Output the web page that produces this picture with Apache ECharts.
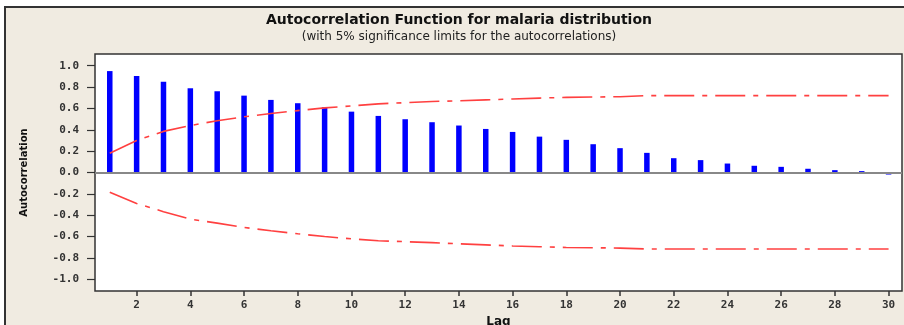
<!DOCTYPE html>
<html>
<head>
    <meta charset="utf-8">
    <title>ACF malaria</title>
    <script src="https://cdn.jsdelivr.net/npm/echarts@6/dist/echarts.min.js"></script>
    <style>
        html, body { margin: 0; padding: 0; background: #fff; }
    </style>
</head>
<body>
    <div id="main" style="width: 904px;height:325px;"></div>
    <script type="text/javascript">

    // lags 1..30
    var lags = [1, 2, 3, 4, 5, 6, 7, 8, 9, 10, 11, 12, 13, 14, 15,
                16, 17, 18, 19, 20, 21, 22, 23, 24, 25, 26, 27, 28, 29, 30];
    // autocorrelation (bars)
    var acf = [0.95, 0.904, 0.85, 0.789, 0.761, 0.72, 0.68, 0.649, 0.611, 0.57,
               0.53, 0.499, 0.471, 0.44, 0.408, 0.38, 0.336, 0.306, 0.265, 0.228,
               0.184, 0.134, 0.116, 0.084, 0.063, 0.053, 0.035, 0.022, 0.013, -0.019];
    // 5% significance limits
    var upperLimit = [0.18, 0.30, 0.385, 0.44, 0.485, 0.522, 0.552, 0.58, 0.605, 0.624,
                      0.643, 0.654, 0.665, 0.672, 0.68, 0.689, 0.697, 0.704, 0.707, 0.71,
                      0.72, 0.72, 0.72, 0.72, 0.72, 0.72, 0.72, 0.72, 0.72, 0.72];
    var lowerLimit = [-0.184, -0.29, -0.367, -0.437, -0.474, -0.515, -0.546, -0.574, -0.6, -0.621,
                      -0.64, -0.648, -0.657, -0.668, -0.678, -0.688, -0.695, -0.702, -0.705, -0.708,
                      -0.716, -0.716, -0.716, -0.716, -0.716, -0.716, -0.716, -0.716, -0.716, -0.716];
    var yTicks = [-1.0, -0.8, -0.6, -0.4, -0.2, 0.0, 0.2, 0.4, 0.6, 0.8, 1.0];
    var xTicks = [2, 4, 6, 8, 10, 12, 14, 16, 18, 20, 22, 24, 26, 28, 30];

    var myChart = echarts.init(document.getElementById('main'));

    function pairs(ys) {
        return lags.map(function (x, i) { return [x, ys[i]]; });
    }

    var redDash = { color: '#ff4040', width: 1.6, type: [30, 8, 5, 8] };

    var option = {
        backgroundColor: '#ffffff',
        animation: false,
        graphic: [{
            type: 'rect',
            z: -10,
            shape: { x: 5, y: 7, width: 904, height: 325 },
            style: { fill: '#f0ebe1', stroke: '#333333', lineWidth: 2 },
            silent: true
        }],
        title: {
            text: 'Autocorrelation Function for malaria distribution',
            subtext: '(with 5% significance limits for the autocorrelations)',
            left: 459,
            top: 13,
            padding: 0,
            textAlign: 'center',
            itemGap: 4,
            textStyle: {
                fontFamily: 'DejaVu Sans',
                fontWeight: 'bold',
                fontSize: 14,
                color: '#111'
            },
            subtextStyle: {
                fontFamily: 'DejaVu Sans',
                fontSize: 12,
                color: '#222'
            }
        },
        grid: {
            left: 95,
            right: 2,
            top: 54,
            bottom: 34,
            outerBoundsMode: 'none',
            containLabel: false,
            show: true,
            backgroundColor: '#ffffff',
            borderColor: '#333333',
            borderWidth: 1.5
        },
        xAxis: {
            type: 'value',
            min: 0.45,
            max: 30.5,
            name: 'Lag',
            nameLocation: 'middle',
            nameGap: 22,
            nameTextStyle: {
                fontFamily: 'DejaVu Sans',
                fontWeight: 'bold',
                fontSize: 12,
                color: '#111'
            },
            axisLine: { show: false, onZero: false },
            splitLine: { show: false },
            axisTick: {
                show: true,
                length: 5,
                customValues: xTicks,
                lineStyle: { color: '#333', width: 1.5 }
            },
            axisLabel: {
                customValues: xTicks,
                margin: 9,
                fontFamily: 'DejaVu Sans Mono',
                fontWeight: 'bold',
                fontSize: 11,
                color: '#333'
            }
        },
        yAxis: {
            type: 'value',
            min: -1.11,
            max: 1.11,
            name: 'Autocorrelation',
            nameLocation: 'middle',
            nameGap: 66,
            nameTextStyle: {
                fontFamily: 'DejaVu Sans',
                fontWeight: 'bold',
                fontSize: 10,
                color: '#111'
            },
            axisLine: { show: false, onZero: false },
            splitLine: { show: false },
            axisTick: {
                show: true,
                length: 8,
                customValues: yTicks,
                lineStyle: { color: '#333', width: 1.2 }
            },
            axisLabel: {
                customValues: yTicks,
                margin: 16,
                fontFamily: 'DejaVu Sans Mono',
                fontWeight: 'bold',
                fontSize: 11,
                color: '#333',
                formatter: function (v) { return v.toFixed(1); }
            }
        },
        series: [{
                name: 'ACF',
                type: 'bar',
                barWidth: 5.5,
                data: pairs(acf),
                itemStyle: { color: '#0000ff' },
                markLine: {
                    silent: true,
                    symbol: 'none',
                    label: { show: false },
                    lineStyle: { color: '#888888', type: 'solid', width: 2 },
                    data: [{ yAxis: 0 }]
                },
                z: 3
            },
            {
                name: 'Upper',
                type: 'line',
                showSymbol: false,
                data: pairs(upperLimit),
                lineStyle: redDash,
                z: 4
            },
            {
                name: 'Lower',
                type: 'line',
                showSymbol: false,
                data: pairs(lowerLimit),
                lineStyle: redDash,
                z: 4
            }
        ]
    };

    myChart.setOption(option);
    </script>
</body>
</html>
